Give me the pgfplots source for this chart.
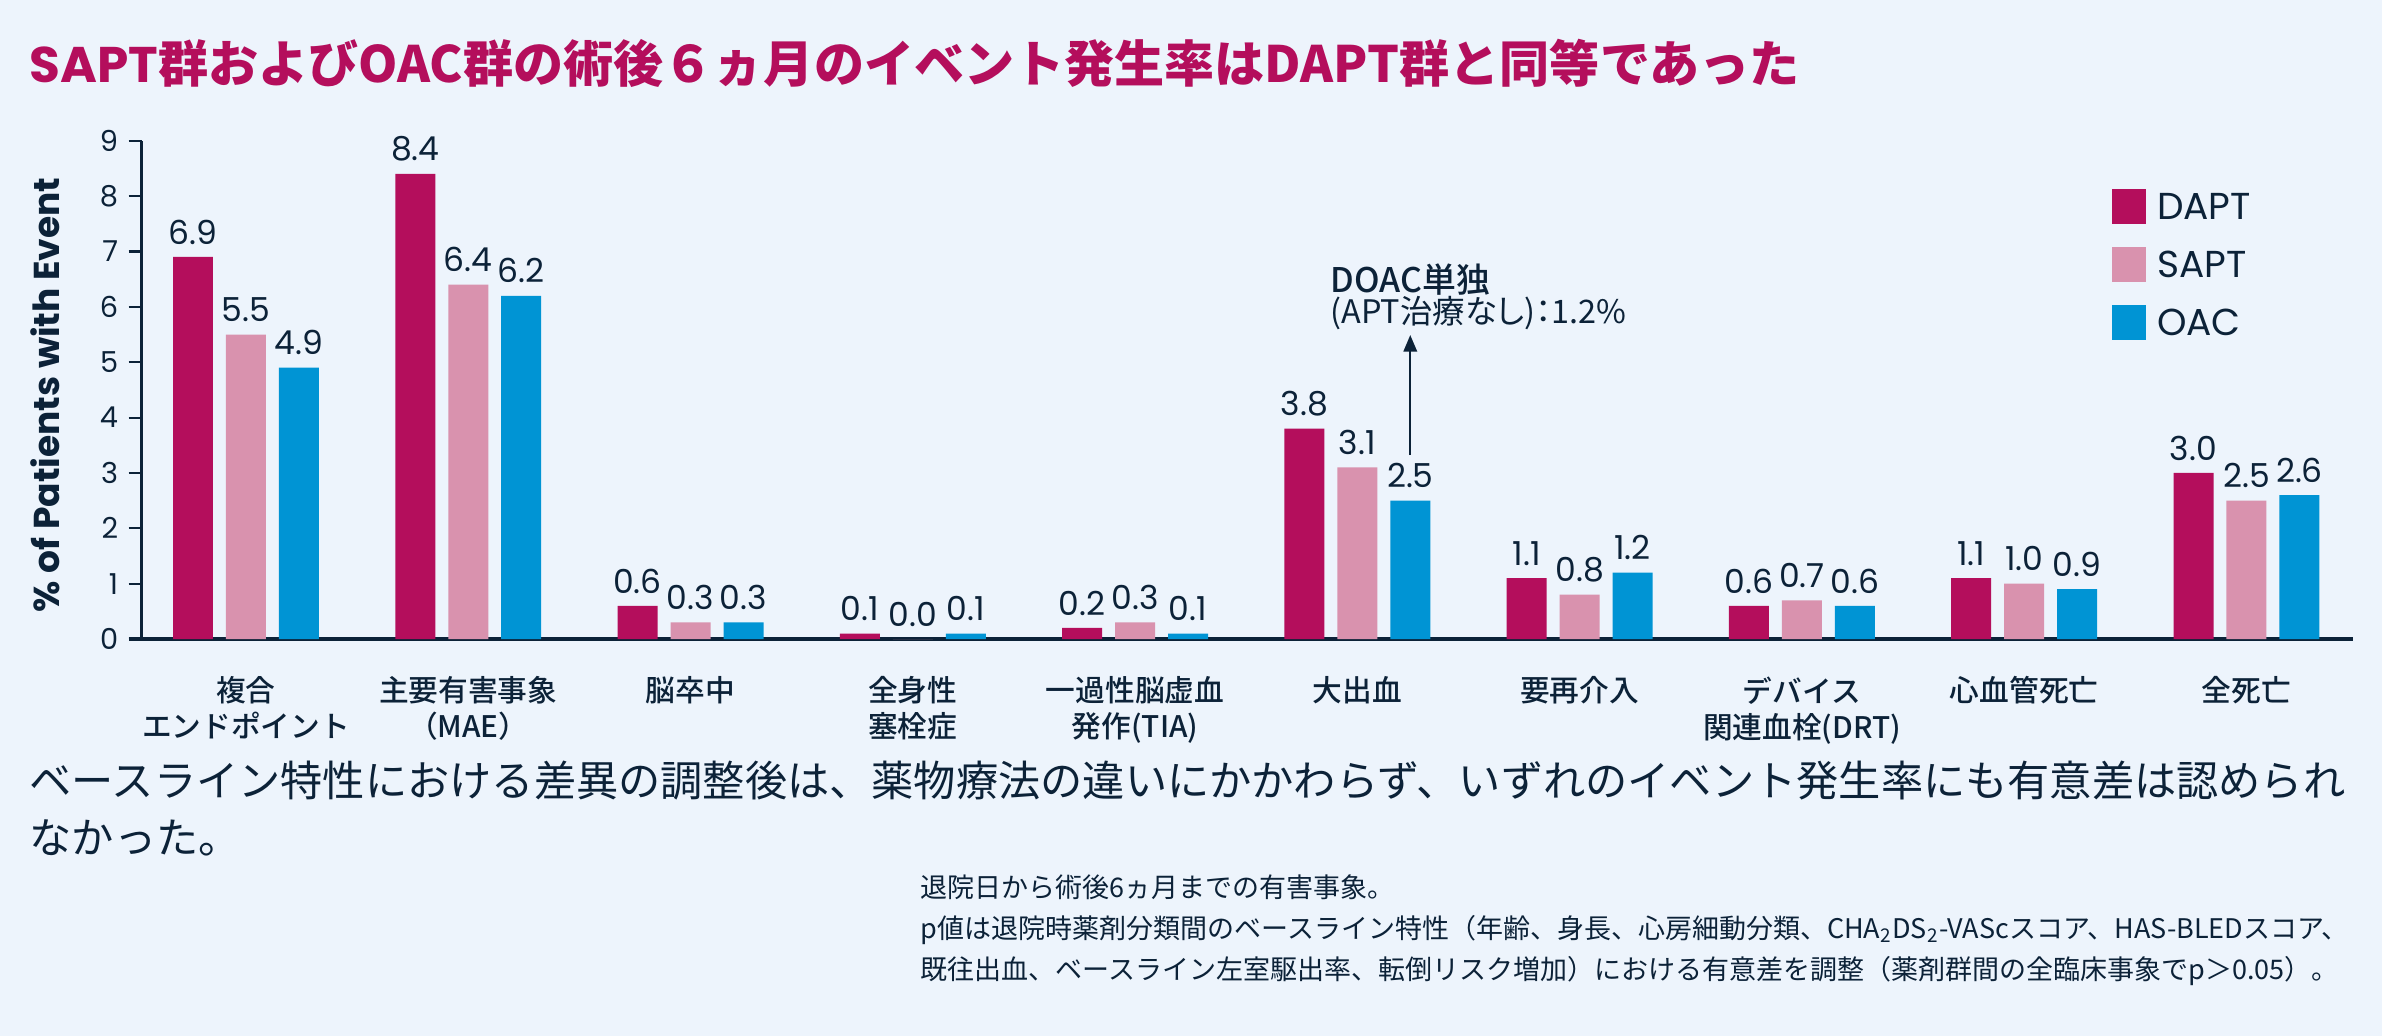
\documentclass[border=0pt]{standalone}
\usepackage{fontspec}
\usepackage{pgfplots}
\usepackage{pgfplotstable}
\pgfplotsset{compat=1.18}
\usetikzlibrary{arrows.meta}

\setmainfont{Poppins}
\newfontfamily\jp{Noto Sans CJK JP}
\newfontfamily\jpm[UprightFont={* Medium}]{Noto Sans CJK JP}
\newfontfamily\jpp[RawFeature=+palt]{Noto Sans CJK JP}

\definecolor{bg}{RGB}{237,244,252}
\definecolor{dapt}{RGB}{180,14,92}
\definecolor{sapt}{RGB}{217,146,174}
\definecolor{oac}{RGB}{0,148,212}
\definecolor{navy}{RGB}{12,34,56}

\newcommand\catfont{\jpm\fontsize{9.9bp}{12bp}\selectfont}
\newcommand\valfont{\fontsize{11bp}{13bp}\selectfont}
\newcommand\tickfont{\fontsize{9.6bp}{11bp}\selectfont}

% event rates (%) per category
\pgfplotstableread{
x dapt sapt oac
0 6.9 5.5 4.9
1 8.4 6.4 6.2
2 0.6 0.3 0.3
3 0.1 0.0 0.1
4 0.2 0.3 0.1
5 3.8 3.1 2.5
6 1.1 0.8 1.2
7 0.6 0.7 0.6
8 1.1 1.0 0.9
9 3.0 2.5 2.6
}\eventdata

\begin{document}
\begin{tikzpicture}
% pixel grid of the reference, y pointing down
\begin{scope}[x=0.33333bp,y=-0.33333bp]
\fill[bg] (0,0) rectangle (2382,1036);
\useasboundingbox (0,0) rectangle (2382,1036);
\end{scope}

\begin{axis}[
    at={(47.167bp,-213bp)}, anchor=south west,
    scale only axis,
    width=737.17bp, height=166.1bp,
    /pgf/number format/assume math mode=true,
    ybar=4.33bp, bar width=13.33bp,
    xmin=-0.47, xmax=9.48,
    ymin=0, ymax=9,
    ytick={0,1,...,9},
    xtick=data,
    xticklabels={
        {複合\\エンドポイント},
        {主要有害事象\\（MAE）},
        {脳卒中},
        {全身性\\塞栓症},
        {一過性脳虚血\\発作(TIA)},
        {大出血},
        {要再介入},
        {デバイス\\関連血栓(DRT)},
        {心血管死亡},
        {全死亡}},
    axis x line*=bottom,
    axis y line*=left,
    x axis line style={navy, line width=1.1bp, shorten <=-4.3bp},
    y axis line style={navy, line width=0.7bp},
    xtick style={draw=none},
    tick align=outside,
    major tick length=4.3bp,
    ytick style={navy, line width=0.7bp},
    yticklabel style={font=\tickfont, text=navy, inner sep=0pt, xshift=-3.3bp},
    xticklabel style={font=\catfont, text=navy, align=center, inner sep=0pt, yshift=-8bp},
    ylabel={\% of Patients with Event},
    every axis y label/.style={at={(axis description cs:-0.0436,0.49)}, rotate=90, anchor=center},
    ylabel style={font=\bfseries\fontsize{12bp}{14bp}\selectfont, text=navy},
    nodes near coords={\pgfmathprintnumber[fixed,fixed zerofill,precision=1]{\pgfplotspointmeta}},
    every node near coord/.append style={font=\valfont, text=navy, inner sep=0pt, yshift=4bp},
    legend image code/.code={\fill[#1] (0bp,-5.8bp) rectangle (11.3bp,5.8bp);},
    legend cell align=left,
    legend style={
        at={(axis description cs:0.891,0.903)}, anchor=north west,
        draw=none, fill=none, inner sep=0pt, outer sep=0pt,
        font=\fontsize{12.5bp}{14bp}\selectfont, text=navy,
        row sep=7.73bp, column sep=3.7bp,
        nodes={inner sep=0pt, text height=10.3bp, text depth=1.3bp},
    },
]
\addplot[draw=none, fill=dapt] table[x=x, y=dapt] {\eventdata};
\addplot[draw=none, fill=sapt] table[x=x, y=sapt] {\eventdata};
\addplot[draw=none, fill=oac] table[x=x, y=oac] {\eventdata};
\legend{DAPT, SAPT, OAC}

% arrow: DOAC alone, off the scale
\draw[navy, line width=0.6bp, -{Triangle[length=5.5bp,width=4.5bp]}]
    (axis cs:5.238,3.32) -- (axis cs:5.238,5.49);
\end{axis}

\begin{scope}[x=0.33333bp,y=-0.33333bp]
% title
\node[anchor=base west, inner sep=0pt, text=dapt,
      font=\bfseries\fontsize{16.7bp}{20bp}\selectfont] at (29,83)
    {SAPT{\jp 群およびOAC群の術後６ヵ月のイベント発生率はDAPT群と同等であった}};

% annotation text
\node[anchor=base west, inner sep=0pt, text=navy, font=\jpm\fontsize{11.3bp}{13bp}\selectfont]
    at (1330,293) {DOAC単独};
\node[anchor=base west, inner sep=0pt, text=navy, font=\jpp\fontsize{10.8bp}{13bp}\selectfont]
    at (1330,324) {(APT治療なし)：1.2\%};

% conclusion
\node[anchor=base west, inner sep=0pt, text=navy, font=\jp\fontsize{14.07bp}{19bp}\selectfont]
    at (29,796) {ベースライン特性における差異の調整後は、薬物療法の違いにかかわらず、いずれのイベント発生率にも有意差は認められ};
\node[anchor=base west, inner sep=0pt, text=navy, font=\jp\fontsize{14.07bp}{19bp}\selectfont]
    at (29,853) {なかった。};

% footnotes
\node[anchor=base west, inner sep=0pt, text=navy, font=\jp\fontsize{9bp}{13bp}\selectfont]
    at (920,897) {退院日から術後6ヵ月までの有害事象。};
\node[anchor=base west, inner sep=0pt, text=navy, font=\jp\fontsize{9bp}{13bp}\selectfont]
    at (920,938) {p値は退院時薬剤分類間のベースライン特性（年齢、身長、心房細動分類、CHA\textsubscript{2}DS\textsubscript{2}-VAScスコア、HAS-BLEDスコア、};
\node[anchor=base west, inner sep=0pt, text=navy, font=\jp\fontsize{9bp}{13bp}\selectfont]
    at (920,979) {既往出血、ベースライン左室駆出率、転倒リスク増加）における有意差を調整（薬剤群間の全臨床事象でp＞0.05）。};
\end{scope}
\end{tikzpicture}
\end{document}
